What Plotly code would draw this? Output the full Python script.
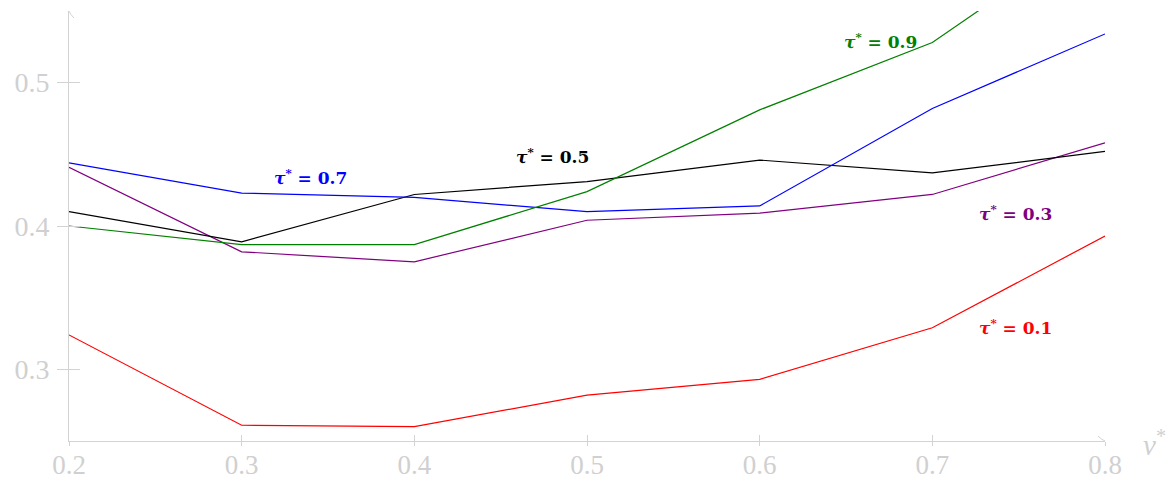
import plotly.graph_objects as go

# v* grid
v_star = [0.2, 0.3, 0.4, 0.5, 0.6, 0.7, 0.8]

# one curve per tau*
tau_01 = [0.324, 0.261, 0.260, 0.282, 0.293, 0.329, 0.393]
tau_03 = [0.441, 0.382, 0.375, 0.404, 0.409, 0.422, 0.458]
tau_05 = [0.410, 0.389, 0.422, 0.431, 0.446, 0.437, 0.452]
tau_07 = [0.444, 0.423, 0.420, 0.410, 0.414, 0.482, 0.534]
tau_09 = [0.400, 0.387, 0.387, 0.424, 0.481, 0.528, 0.611]

series = [
    ("0.1", tau_01, "#ff0000", 0.748, 0.3295),
    ("0.3", tau_03, "#800080", 0.748, 0.409),
    ("0.5", tau_05, "#000000", 0.480, 0.4487),
    ("0.7", tau_07, "#0000ff", 0.340, 0.434),
    ("0.9", tau_09, "#008000", 0.670, 0.529),
]

x_ticks = [0.2, 0.3, 0.4, 0.5, 0.6, 0.7, 0.8]
y_ticks = [0.3, 0.4, 0.5]
x_range = [0.2, 0.8]
y_range = [0.25, 0.55]

AXIS_GREY = "#d3d3d3"
TICK_GREY = "#d0d0d0"
SERIF = "Liberation Serif, DejaVu Serif, serif"
LABEL_FONT = "DejaVu Serif, serif"

fig = go.Figure()

for name, vals, color, lx, ly in series:
    fig.add_trace(go.Scatter(
        x=v_star, y=vals, mode="lines",
        line=dict(color=color, width=1.2),
        showlegend=False, hoverinfo="skip", cliponaxis=True,
    ))
    fig.add_annotation(
        x=lx, y=ly, xref="x", yref="y", showarrow=False,
        text=f"<b><i>τ</i><sup>*</sup> = {name}</b>",
        font=dict(family=LABEL_FONT, size=17, color=color),
    )

# invisible traces so the overlay axes (the two halves of the crossing ticks) render
for xa, ya in (("x2", "y2"), ("x3", "y2")):
    fig.add_trace(go.Scatter(x=[x_range[0]], y=[y_range[0]], xaxis=xa, yaxis=ya,
                             mode="markers", marker=dict(opacity=0),
                             showlegend=False, hoverinfo="skip"))

tick_only = dict(showticklabels=False, showline=False, showgrid=False, zeroline=False,
                 tickcolor=AXIS_GREY, tickwidth=1, automargin=False)

fig.update_layout(
    width=1174, height=483,
    margin=dict(l=69, r=69, t=11, b=42),
    plot_bgcolor="white", paper_bgcolor="white",
    xaxis=dict(range=x_range, tickvals=x_ticks, ticktext=[f"{t:.1f}" for t in x_ticks],
               showline=True, linecolor=AXIS_GREY, linewidth=1, ticks="",
               ticklabelstandoff=0, showgrid=False, zeroline=False, automargin=False,
               tickfont=dict(family=SERIF, size=27, color=TICK_GREY)),
    yaxis=dict(range=y_range, tickvals=y_ticks, ticktext=[f"{t:.1f}" for t in y_ticks],
               showline=True, linecolor=AXIS_GREY, linewidth=1,
               ticks="outside", ticklen=11, tickcolor=AXIS_GREY, tickwidth=1,
               ticklabelstandoff=2, showgrid=False, zeroline=False, automargin=False,
               tickfont=dict(family=SERIF, size=28, color=TICK_GREY)),
    xaxis2=dict(range=x_range, tickvals=x_ticks[1:], overlaying="x", side="bottom",
                ticks="inside", ticklen=6, **tick_only),
    xaxis3=dict(range=x_range, tickvals=x_ticks, overlaying="x", side="bottom",
                ticks="outside", ticklen=4, **tick_only),
    yaxis2=dict(range=y_range, tickvals=y_ticks, overlaying="y", side="left",
                ticks="inside", ticklen=11, **tick_only),
)

# chevron arrowheads at the axis ends (pixel-sized, anchored at the range ends)
fig.add_shape(type="path", xref="x", yref="y", xsizemode="pixel", ysizemode="pixel",
              xanchor=x_range[1], yanchor=y_range[0],
              path="M -7,-5 Q -3,-1 0,0 Q -3,1 -7,5",
              line=dict(color=AXIS_GREY, width=1), layer="above")
fig.add_shape(type="path", xref="x", yref="y", xsizemode="pixel", ysizemode="pixel",
              xanchor=x_range[0], yanchor=y_range[1],
              path="M -5,-7 Q -1,-3 0,0 Q 1,-3 5,-7",
              line=dict(color=AXIS_GREY, width=1), layer="above")

# axis title at the end of the horizontal axis
fig.add_annotation(x=1.0, y=0, xref="paper", yref="paper", xanchor="left", yanchor="middle",
                   xshift=36, yshift=-2, showarrow=False,
                   text="<i>v</i><sup>*</sup>",
                   font=dict(family=SERIF, size=29, color=TICK_GREY))

fig.write_html("out.html")
